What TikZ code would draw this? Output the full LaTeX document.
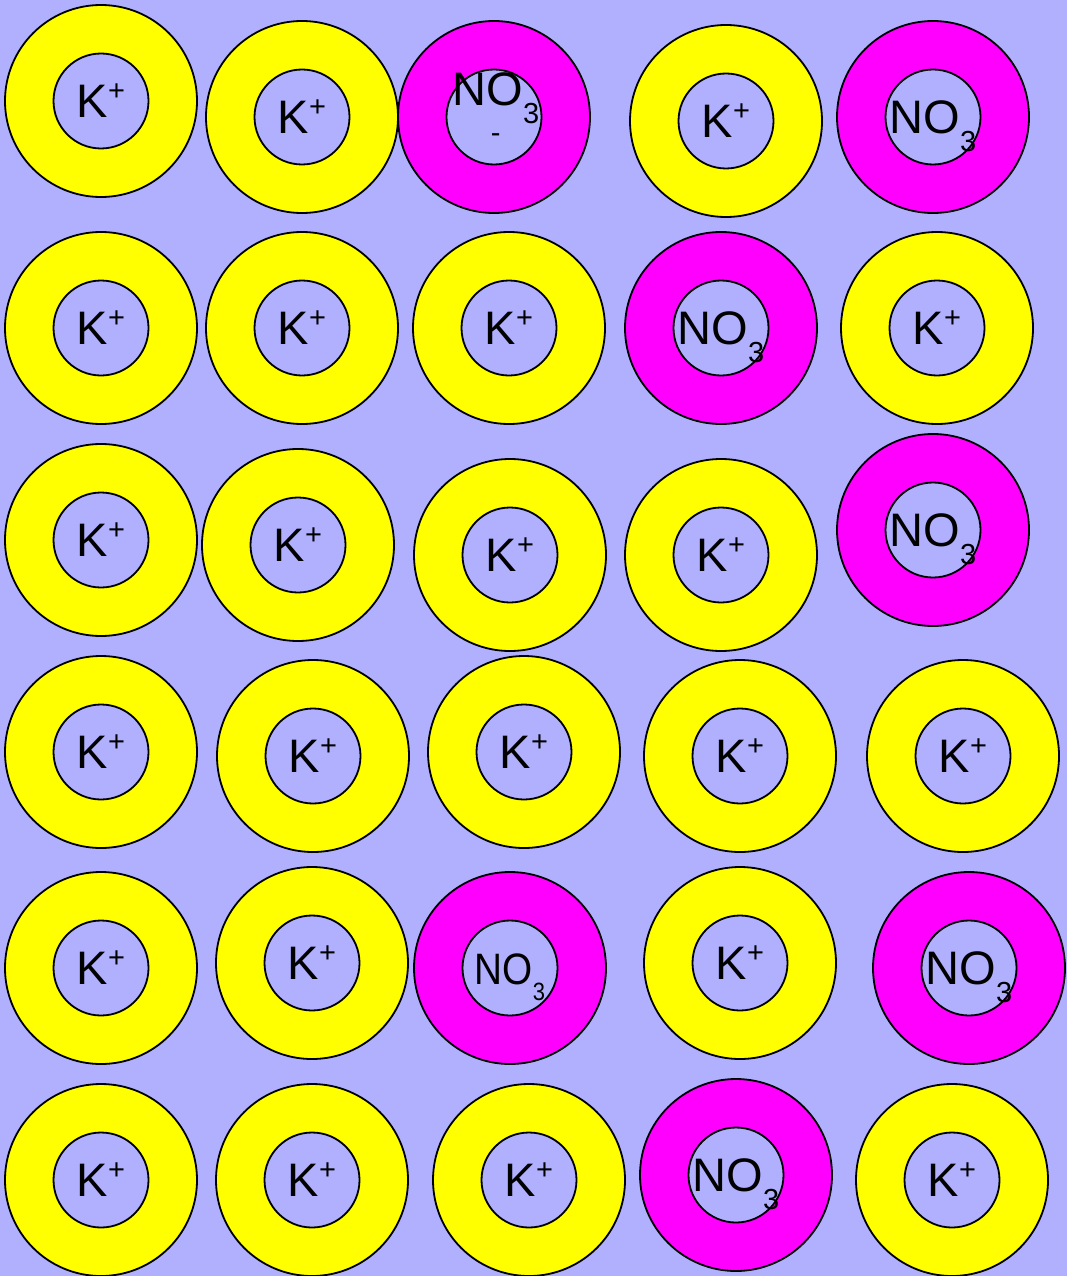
\documentclass[tikz,border=0pt]{standalone}
\usepackage{fontspec}
\usepackage{graphicx}
\setmainfont{Liberation Sans}
\definecolor{bg}{HTML}{B0B0FF}
\definecolor{kyellow}{HTML}{FFFF00}
\definecolor{nmagenta}{HTML}{FF00FF}
\newcommand\Kplus{K\raisebox{17.6pt}{\fontsize{29}{29}\selectfont +}}
\newcommand\NOthree{NO\raisebox{-18pt}{\fontsize{29}{29}\selectfont 3}}
\newcommand\ionring[5]{%
  \node[#4] (#1) at (#2,#3) {};
  \node[core] (#1i) at (#1) {};
  \node[ionlabel] (#1t) at ([yshift=-16.8pt]#1.center) {#5};}
\begin{document}
\begin{tikzpicture}[x=1pt,y=-1pt,
  shell/.style={circle,draw=black,line width=1.8pt,inner sep=0pt,minimum size=192pt},
  kring/.style={shell,fill=kyellow},
  nring/.style={shell,fill=nmagenta},
  core/.style={circle,draw=black,line width=1.8pt,fill=bg,inner sep=0pt,minimum size=95pt},
  ionlabel/.style={anchor=base,inner sep=0pt,font=\fontsize{47}{47}\selectfont}]
\fill[bg] (0,0) rectangle (1067,1276);
\useasboundingbox (0,0) rectangle (1067,1276);
% row 1
\ionring{a1}{101}{101}{kring}{\Kplus}
\ionring{a2}{302}{117}{kring}{\Kplus}
\node[nring] (a3) at (494,117) {};
\node[core] (a3i) at (a3) {};
\node[ionlabel] (a3t) at (496,106) {\rlap{\makebox[86pt]{\raisebox{-36.5pt}{\fontsize{29}{29}\selectfont -}}}\NOthree};
\ionring{a4}{726}{121}{kring}{\Kplus}
\ionring{a5}{933}{117}{nring}{\NOthree}
% row 2
\ionring{b1}{101}{328}{kring}{\Kplus}
\ionring{b2}{302}{328}{kring}{\Kplus}
\ionring{b3}{509}{328}{kring}{\Kplus}
\ionring{b4}{721}{328}{nring}{\NOthree}
\ionring{b5}{937}{328}{kring}{\Kplus}
% row 3
\ionring{c1}{101}{540}{kring}{\Kplus}
\ionring{c2}{298}{545}{kring}{\Kplus}
\ionring{c3}{510}{555}{kring}{\Kplus}
\ionring{c4}{721}{555}{kring}{\Kplus}
\ionring{c5}{933}{530}{nring}{\NOthree}
% row 4
\ionring{d1}{101}{752}{kring}{\Kplus}
\ionring{d2}{313}{756}{kring}{\Kplus}
\ionring{d3}{524}{752}{kring}{\Kplus}
\ionring{d4}{740}{756}{kring}{\Kplus}
\ionring{d5}{963}{756}{kring}{\Kplus}
% row 5
\ionring{e1}{101}{968}{kring}{\Kplus}
\ionring{e2}{312}{963}{kring}{\Kplus}
\node[nring] (e3) at (510,968) {};
\node[core] (e3i) at (e3) {};
\node[ionlabel] (e3t) at ([yshift=-16pt]e3.center) {\scalebox{0.88}[1]{\fontsize{44}{44}\selectfont NO\raisebox{-16pt}{\fontsize{25}{25}\selectfont 3}}};
\ionring{e4}{740}{963}{kring}{\Kplus}
\ionring{e5}{969}{968}{nring}{\NOthree}
% row 6
\ionring{f1}{101}{1180}{kring}{\Kplus}
\ionring{f2}{312}{1180}{kring}{\Kplus}
\ionring{f3}{529}{1180}{kring}{\Kplus}
\ionring{f4}{736}{1175}{nring}{\NOthree}
\ionring{f5}{952}{1180}{kring}{\Kplus}
\end{tikzpicture}
\end{document}
